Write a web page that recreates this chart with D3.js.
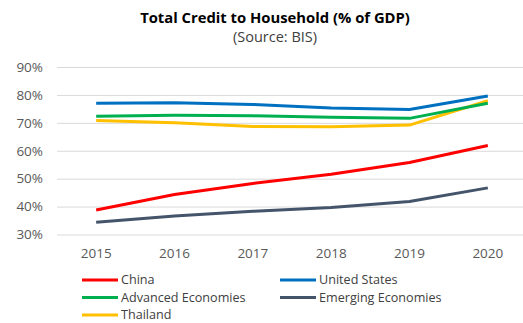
<!DOCTYPE html>
<html><head><meta charset="utf-8">
<script src="https://cdn.jsdelivr.net/npm/d3@7"></script>
<style>body{margin:0;background:#fff}svg{display:block}</style>
</head><body>
<svg id="c" width="523" height="323"></svg>
<script>
const years = ["2015","2016","2017","2018","2019","2020"];
const china = [38.8,44.3,48.3,51.6,55.8,61.9];
const unitedStates = [77.0,77.2,76.6,75.3,74.8,79.6];
const advanced = [72.4,72.7,72.5,72.0,71.6,77.0];
const emerging = [34.4,36.6,38.3,39.7,41.8,46.7];
const thailand = [70.8,70.0,68.7,68.6,69.2,77.9];
const yTicks = [30,40,50,60,70,80,90];
const seriesNames = ["China","United States","Advanced Economies","Emerging Economies","Thailand"];
const seriesColors = ["#FF0000","#0070C0","#00B050","#44546A","#FFC000"];
const seriesData = [china, unitedStates, advanced, emerging, thailand];

const svg = d3.select("#c");
const font = "'Open Sans', 'Noto Sans', sans-serif";
const x = d3.scaleBand().domain(years).range([57, 527]);
const y = d3.scaleLinear().domain([30, 90]).range([234.5, 67]);

svg.append("text").attr("x", 275).attr("y", 22.5).attr("text-anchor","middle")
  .attr("font-family", font).attr("font-weight","bold").attr("font-size",14.8).attr("fill","#000")
  .text("Total Credit to Household (% of GDP)");
svg.append("text").attr("x", 275).attr("y", 42).attr("text-anchor","middle")
  .attr("font-family", font).attr("font-size",14.5).attr("fill","#404040")
  .text("(Source: BIS)");

// gridlines
const yAxis = d3.axisLeft(y).tickValues(yTicks).tickSize(-(527-57)).tickFormat(d => d + "%");
const ga = svg.append("g").attr("transform","translate(57,0)").call(yAxis);
ga.select(".domain").remove();
ga.selectAll(".tick line").attr("stroke","#d9d9d9").attr("stroke-width",1);
ga.selectAll(".tick text").attr("x",-14).attr("font-family",font).attr("font-size",13.5).attr("fill","#595959");

const xAxis = d3.axisBottom(x).tickSize(0);
const gx = svg.append("g").attr("transform","translate(0,234.5)").call(xAxis);
gx.select(".domain").remove();
gx.selectAll(".tick text").attr("dy", 0).attr("y", 23.5).attr("font-family",font).attr("font-size",13.5).attr("fill","#595959");

const line = d3.line().x((d,i) => x(years[i]) + x.bandwidth()/2).y(d => y(d));
const order = [3,0,4,2,1];
order.forEach(k => {
  svg.append("path").datum(seriesData[k]).attr("d", line).attr("fill","none")
    .attr("stroke", seriesColors[k]).attr("stroke-width",3).attr("stroke-linejoin","round");
});

// legend
const legPos = [[82,280],[280,280],[82,297.5],[280,297.5],[82,315]];
seriesNames.forEach((n,i) => {
  const [lx, ly] = legPos[i];
  svg.append("line").attr("x1",lx).attr("x2",lx+36).attr("y1",ly).attr("y2",ly)
    .attr("stroke",seriesColors[i]).attr("stroke-width",3);
  svg.append("text").attr("x",lx+39).attr("y",ly+4.3).attr("font-family",font).attr("font-size",12.6)
    .attr("fill","#404040").text(n);
});
</script>
</body></html>
